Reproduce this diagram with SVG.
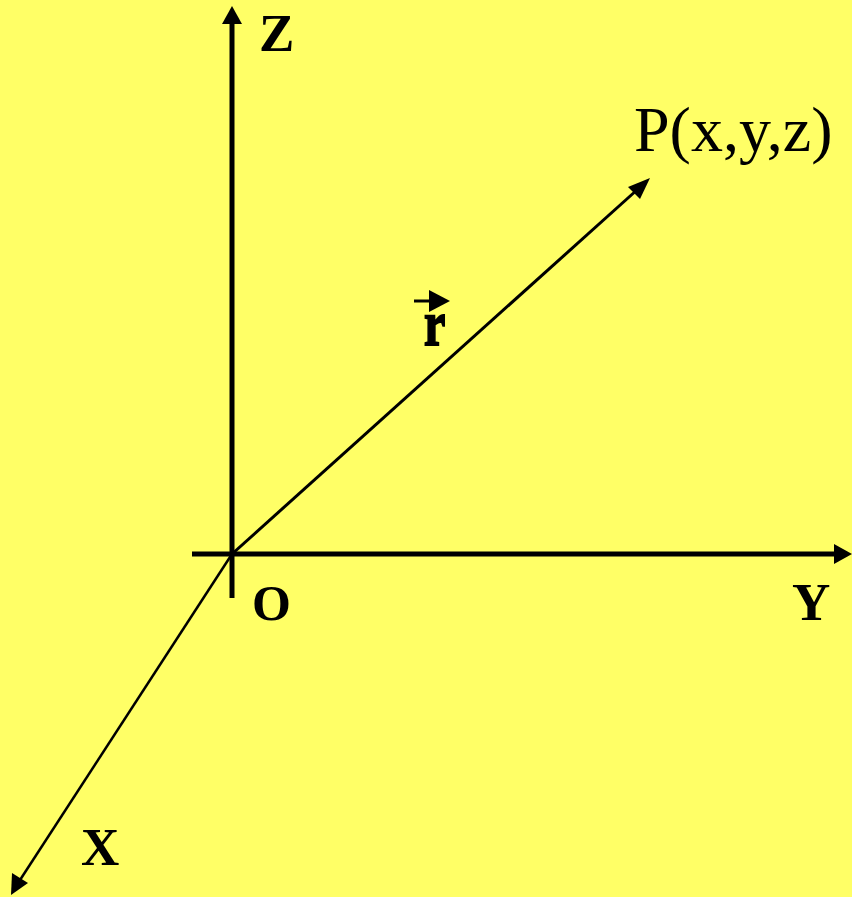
<svg xmlns="http://www.w3.org/2000/svg" width="852" height="897" viewBox="0 0 852 897">
<style>
.lbl{font-family:"Liberation Serif","Times New Roman",serif;font-weight:bold;fill:#000}
.p{font-family:"Liberation Serif","Times New Roman",serif;fill:#000}
</style>
<rect width="852" height="897" fill="#FFFF66"/>
<g id="connectors" stroke="#000" fill="none">
<line id="z-axis" x1="232" y1="598" x2="232" y2="20" stroke-width="5"/>
<polygon points="232,6 222,24 242,24" fill="#000" stroke="none"/>
<line id="y-axis" x1="192" y1="554" x2="838" y2="554" stroke-width="5"/>
<polygon points="852,554 834,544 834,564" fill="#000" stroke="none"/>
<line id="x-axis" x1="232" y1="554" x2="20" y2="880" stroke-width="2.5"/>
<polygon points="11,895 12,873 28,883" fill="#000" stroke="none"/>
<line id="r-vector" x1="232" y1="554" x2="638" y2="189" stroke-width="3"/>
<polygon points="650,178 628,187 640,199" fill="#000" stroke="none"/>
<line x1="414" y1="301" x2="432" y2="301" stroke-width="3"/>
<polygon points="450,301 429,290 429,312" fill="#000" stroke="none"/>
</g>
<g id="Z"><text class="lbl" x="259" y="51" font-size="53">Z</text></g>
<g id="O"><text class="lbl" x="252" y="620" font-size="50">O</text></g>
<g id="Y"><text class="lbl" x="792" y="620" font-size="53">Y</text></g>
<g id="X"><text class="lbl" x="81" y="865" font-size="53">X</text></g>
<g id="P"><text class="p" x="634" y="151" font-size="64">P(x,y,z)</text></g>
<g id="r"><text class="lbl" font-size="64" stroke="#000" stroke-width="2" transform="translate(424,345) scale(0.75,1)">r</text></g>
</svg>
